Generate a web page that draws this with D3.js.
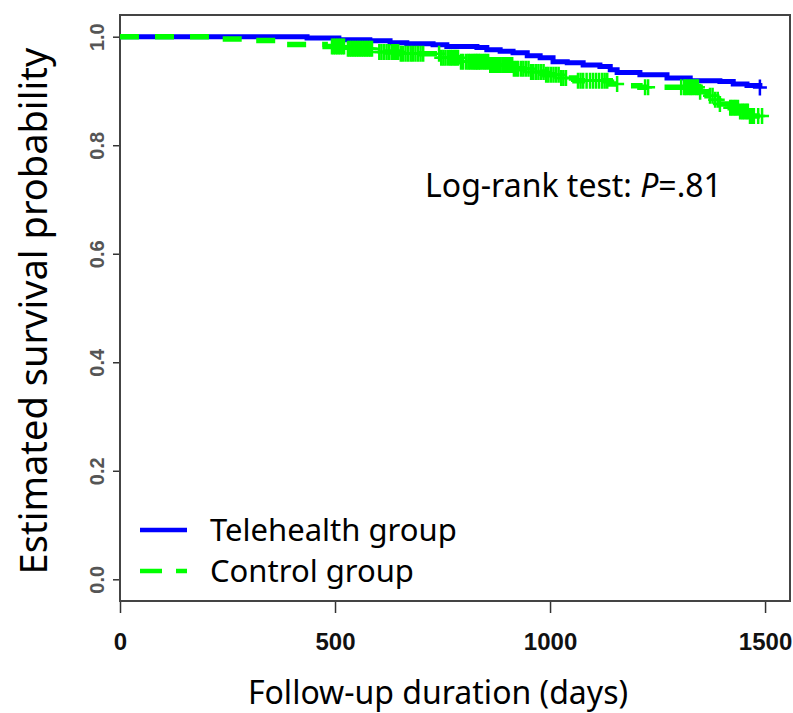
<!DOCTYPE html>
<html>
<head>
<meta charset="utf-8">
<script src="https://cdn.jsdelivr.net/npm/d3@7"></script>
<style>
  body { margin: 0; background: #fff; }
  svg { display: block; }
</style>
</head>
<body>
<div class="canvas"></div>
<script>
// Kaplan-Meier steps: [day, survival after that day]
const teleDays = [0, 435, 509, 581, 628, 667, 728, 760, 830, 853, 884, 914, 947, 977, 1007, 1040, 1077, 1116, 1140, 1156, 1209, 1272, 1326, 1395, 1426, 1458, 1488];
const teleSurv = [1.0, 0.9976, 0.9945, 0.9926, 0.989, 0.987, 0.9852, 0.982, 0.98, 0.976, 0.973, 0.9705, 0.965, 0.961, 0.954, 0.952, 0.948, 0.945, 0.939, 0.934, 0.930, 0.924, 0.919, 0.9175, 0.913, 0.910, 0.9065];
const teleCensor = [1488];

const ctrlDays = [0, 233, 302, 395, 477, 523, 593, 651, 744, 791, 860, 914, 953, 988, 1023, 1058, 1140, 1174, 1209, 1349, 1365, 1379, 1395, 1419, 1442, 1465, 1505];
const ctrlSurv = [1.0, 0.9958, 0.993, 0.9855, 0.982, 0.978, 0.972, 0.9686, 0.961, 0.954, 0.948, 0.941, 0.935, 0.930, 0.924, 0.919, 0.913, 0.9096, 0.907, 0.8985, 0.891, 0.884, 0.876, 0.869, 0.862, 0.854, 0.854];
const ctrlCensor = [
  493, 497, 501, 505, 509, 513, 517, 521,
  530, 534, 538, 542, 546, 550, 554, 558, 562, 566, 570, 574, 578, 582, 586,
  603, 608, 614, 620, 626, 632, 637, 642, 647, 653, 658, 664, 670, 676, 681, 687, 693, 699, 705,
  742, 747, 752, 757, 763, 768, 772, 777, 781, 786, 793, 798, 805, 810, 814, 819, 823, 827, 830,
  834, 837, 842, 847, 851, 856, 861, 865, 870, 874, 879, 884, 889, 893, 898, 902, 907, 912, 916, 921,
  926, 933, 938, 944, 950, 956, 961, 967, 973, 979, 985, 991, 996, 1002, 1008, 1014, 1020, 1026, 1031, 1037,
  1065, 1071, 1077, 1085, 1093, 1100, 1107, 1114, 1121, 1127, 1133, 1156,
  1221, 1228, 1305, 1312, 1316, 1321, 1326, 1330, 1335, 1340, 1344, 1349,
  1372, 1378, 1384, 1390, 1395,
  1419, 1423, 1428, 1432, 1437, 1442, 1447, 1451, 1456, 1460, 1465, 1470, 1474, 1484, 1493
];

const xTicks = [0, 500, 1000, 1500];
const yTicks = [0, 0.2, 0.4, 0.6, 0.8, 1.0];
const legendNames = ['Telehealth group', 'Control group'];

const width = 793, height = 713;
const box = { left: 120, right: 790, top: 15, bottom: 601 };

const svg = d3.select('.canvas')
  .append('svg')
  .attr('width', width)
  .attr('height', height);

const x = d3.scaleLinear().domain([0, 1558]).range([box.left, box.right]);
const y = d3.scaleLinear().domain([-0.04, 1.04]).range([box.bottom, box.top]);

const textFont = '"Noto Sans", "Open Sans", sans-serif';
const tickFont = '"Liberation Sans Narrow", "Liberation Sans", Arial, sans-serif';

// axes
const xAxis = d3.axisBottom(x).tickValues(xTicks).tickSize(12).tickFormat(d3.format('d'));
const xAxisGroup = svg.append('g')
  .attr('transform', `translate(0, ${box.bottom})`)
  .call(xAxis);
xAxisGroup.select('.domain').remove();
xAxisGroup.selectAll('line').attr('stroke', '#333').attr('stroke-width', 1.5);
xAxisGroup.selectAll('text')
  .attr('y', 49)
  .attr('dy', 0)
  .attr('fill', '#111')
  .style('font-family', tickFont)
  .style('font-weight', 'bold')
  .style('font-size', '24px');

const yAxis = d3.axisLeft(y).tickValues(yTicks).tickSize(7).tickFormat(d3.format('.1f'));
const yAxisGroup = svg.append('g')
  .attr('transform', `translate(${box.left}, 0)`)
  .call(yAxis);
yAxisGroup.select('.domain').remove();
yAxisGroup.selectAll('line').attr('stroke', '#333').attr('stroke-width', 1.5);
yAxisGroup.selectAll('text')
  .attr('x', 0).attr('dy', 0)
  .attr('transform', 'translate(-16, 0) rotate(-90)')
  .attr('text-anchor', 'middle')
  .attr('fill', '#555')
  .style('font-family', tickFont)
  .style('font-weight', 'bold')
  .style('font-size', '20px');

// frame
svg.append('rect')
  .attr('x', box.left).attr('y', box.top)
  .attr('width', box.right - box.left).attr('height', box.bottom - box.top)
  .attr('fill', 'none').attr('stroke', '#444').attr('stroke-width', 2);

// curves
const line = d3.line()
  .x(d => x(d[0]))
  .y(d => y(d[1]))
  .curve(d3.curveStepAfter);

const survAt = (days, surv, t) => surv[d3.bisectRight(days, t) - 1];

const drawGroup = (days, surv, censor, color, lw, dash) => {
  const pts = days.map((d, i) => [d, surv[i]]);
  svg.append('path')
    .datum(pts)
    .attr('d', line)
    .attr('fill', 'none')
    .attr('stroke', color)
    .attr('stroke-width', lw)
    .attr('stroke-dasharray', dash);

  const marks = svg.append('g');
  censor.forEach(t => {
    const cx = x(t), cy = y(survAt(days, surv, t));
    marks.append('path')
      .attr('d', `M${cx - 7},${cy}H${cx + 7}M${cx},${cy - 8}V${cy + 8}`)
      .attr('stroke', color)
      .attr('stroke-width', 2.5);
  });
};

drawGroup(teleDays, teleSurv, teleCensor, '#0000ff', 5, null);
drawGroup(ctrlDays, ctrlSurv, ctrlCensor, '#00ff00', 5.5, '19,16');

// annotation
const note = svg.append('text')
  .attr('x', 425).attr('y', 197)
  .style('font-family', textFont)
  .style('font-size', '32px')
  .attr('fill', '#000');
note.append('tspan').text('Log-rank test: ');
note.append('tspan').style('font-style', 'italic').text('P');
note.append('tspan').text('=.81');

// legend
const legend = svg.append('g');
const legendColors = ['#0000ff', '#00ff00'];
const legendDash = [null, '22,14'];
legendNames.forEach((name, i) => {
  const ly = 530 + i * 41;
  legend.append('line')
    .attr('x1', 140).attr('x2', 187)
    .attr('y1', ly).attr('y2', ly)
    .attr('stroke', legendColors[i])
    .attr('stroke-width', 4.5)
    .attr('stroke-dasharray', legendDash[i]);
  legend.append('text')
    .attr('x', 210).attr('y', ly + 11)
    .style('font-family', textFont)
    .style('font-size', '31px')
    .attr('fill', '#000')
    .text(name);
});

// axis titles
svg.append('text')
  .attr('x', 438).attr('y', 704)
  .attr('text-anchor', 'middle')
  .style('font-family', textFont)
  .style('font-size', '32px')
  .attr('fill', '#000')
  .text('Follow-up duration (days)');

svg.append('text')
  .attr('transform', 'translate(47, 311) rotate(-90)')
  .attr('text-anchor', 'middle')
  .style('font-family', textFont)
  .style('font-size', '38px')
  .attr('fill', '#000')
  .text('Estimated survival probability');
</script>
</body>
</html>
